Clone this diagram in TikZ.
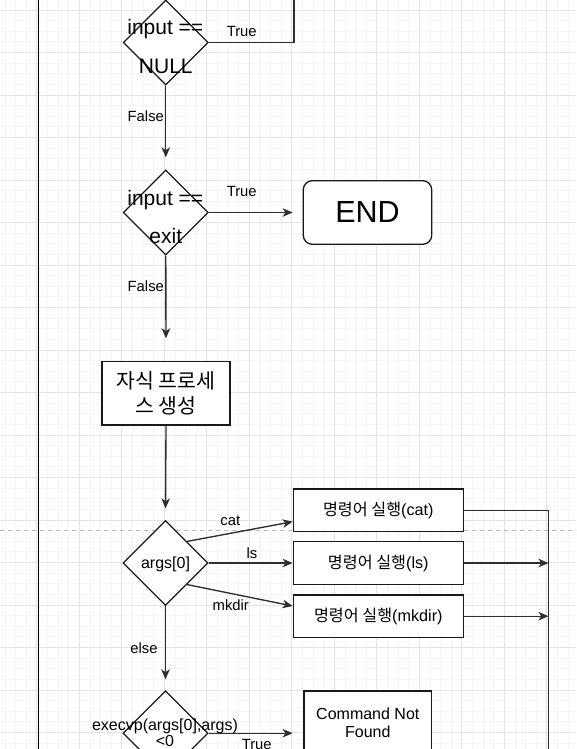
\documentclass[tikz,border=0pt]{standalone}
\usepackage{fontspec}
\setmainfont{Liberation Sans}
\newfontfamily\kr{Noto Sans CJK KR}
\usetikzlibrary{shapes.geometric,arrows.meta,calc}
\definecolor{gminor}{HTML}{F5F5F5}
\definecolor{gmajor}{HTML}{E3E3E3}
\definecolor{connc}{HTML}{2E2E2E}
\definecolor{dashc}{HTML}{B8B8B8}
\begin{document}
\begin{tikzpicture}[x=1pt,y=-1pt,
  dia/.style={draw=black!90, fill=white, shape=diamond, minimum width=85pt, minimum height=85pt, inner sep=0pt, line width=1.3pt},
  box/.style={draw=black!90, fill=white, line width=1.3pt, inner sep=0pt, align=center},
  conn/.style={draw=connc, line width=1.35pt},
  arr/.style={conn, -{Stealth[length=10pt,width=8.5pt,inset=2.8pt]}},
  lbl/.style={font=\fontsize{14.8}{17}\selectfont, anchor=base, inner sep=0pt},
  bigtxt/.style={font=\fontsize{21}{24}\selectfont, anchor=base, inner sep=0pt},
  midtxt/.style={font=\fontsize{16}{18}\selectfont, anchor=base, inner sep=0pt},
  boxtxt/.style={font=\fontsize{16.2}{18.3}\selectfont}
]
\useasboundingbox (0,0) rectangle (576,749);
\clip (0,0) rectangle (576,749);
\fill[white] (0,0) rectangle (576,749);
% grid
\foreach \i in {0,...,55} {\draw[gminor, line width=0.8pt] ({4.925+10.625*\i},0) -- ({4.925+10.625*\i},749);}
\foreach \j in {0,...,71} {\draw[gminor, line width=0.8pt] (0,{10+10.625*\j}) -- (576,{10+10.625*\j});}
\foreach \i in {-1,...,13} {\draw[gmajor, line width=0.9pt] ({36.8+42.5*\i},0) -- ({36.8+42.5*\i},749);}
\foreach \j in {0,...,17} {\draw[gmajor, line width=0.9pt] (0,{10+42.5*\j}) -- (576,{10+42.5*\j});}
% page break line
\coordinate (pbl) at (0,530.5);
\coordinate (pbr) at (576,530.5);
\draw[dashc, line width=0.9pt, dash pattern=on 4pt off 4pt] (pbl) -- (pbr);

% left loop line
\coordinate (lt) at (38.3,-5);
\coordinate (lb) at (38.3,760);
\draw[black, line width=1.2pt] (lt) -- (lb);

% nodes
\node[dia] (d1) at (165.8,42.5) {};
\node[bigtxt] (d1a) at (165.3,35) {input ==};
\node[bigtxt] (d1b) at (165.8,73.3) {NULL};

\node[dia] (d2) at (165.8,212.5) {};
\node[bigtxt] (d2a) at (165.3,205) {input ==};
\node[bigtxt] (d2b) at (165.8,243.3) {exit};

\node[box, rounded corners=9pt, minimum width=128.4pt, minimum height=63.6pt, font=\fontsize{30.5}{34}\selectfont] (end) at (367.5,212.5) {END};

\node[box, minimum width=128pt, minimum height=63.3pt, font=\kr\fontsize{20.5}{25.5}\selectfont] (child) at (166,393.3) {자식 프로세\\스 생성};

\node[dia] (d3) at (165.5,563) {};
\node[midtxt] (d3a) at (165.5,568.5) {args[0]};

\node[box, boxtxt, minimum width=170pt, minimum height=42.7pt] (cat) at (378.3,510.3) {{\kr 명령어 실행}(cat)};
\node[box, boxtxt, minimum width=170pt, minimum height=42.6pt] (ls) at (378.3,563) {{\kr 명령어 실행}(ls)};
\node[box, boxtxt, minimum width=170pt, minimum height=42.3pt] (mk) at (378.3,616.2) {{\kr 명령어 실행}(mkdir)};

\node[dia] (d4) at (165.5,733.2) {};
\node[midtxt] (d4a) at (165,730) {execvp(args[0],args)};
\node[midtxt] (d4b) at (165,746.7) {<0};

\node[box, minimum width=127.7pt, minimum height=63.6pt, font=\fontsize{16}{18.3}\selectfont] (cnf) at (367.8,722.8) {Command Not\\Found};

% connectors
\coordinate (topR) at (294,-5);
\draw[conn] (d1.east) -| (topR);
\node[lbl] (t1) at (241.7,36.7) {True};

\draw[arr, shorten >=12pt] (d1.south) -- (d2.north);
\node[lbl] (f1) at (145.8,121.7) {False};

\draw[arr, shorten >=10pt] (d2.east) -- (end.west);
\node[lbl] (t2) at (241.7,196.7) {True};

\draw[arr, shorten >=22.7pt] (d2.south) -- (child.north);
\node[lbl] (f2) at (145.8,291.7) {False};

\draw[arr, shorten >=11.4pt] (child.south) -- (d3.north);

\draw[arr] (d3.north east) -- ($(cat.west)+(0,11.4)$);
\node[lbl] (lcat) at (230.3,525.7) {cat};
\draw[arr] (d3.east) -- (ls.west);
\node[lbl] (lls) at (252,558.3) {ls};
\draw[arr] (d3.south east) -- ($(mk.west)+(0,-10.2)$);
\node[lbl] (lmk) at (230.8,610.7) {mkdir};

\coordinate (botR) at (548.5,760);
\draw[conn] (cat.east) -| (botR);
\draw[arr] (ls.east) -- (ls.east -| botR);
\draw[arr] (mk.east) -- (mk.east -| botR);

\draw[arr, shorten >=10.7pt] (d3.south) -- (d4.north);
\node[lbl] (lelse) at (144,653.3) {else};

\draw[arr, shorten >=10.7pt] (d4.east) -- (d4.east -| cnf.west);
\node[lbl] (t3) at (256.7,749) {True};
\end{tikzpicture}
\end{document}
